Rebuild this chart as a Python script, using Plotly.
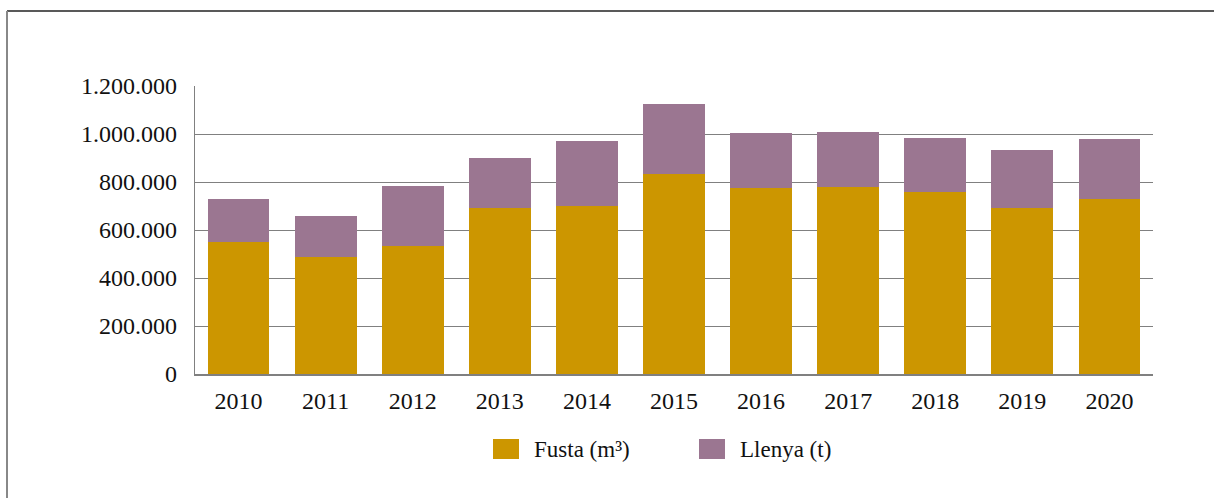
import plotly.graph_objects as go

# %%
years = ['2010', '2011', '2012', '2013', '2014', '2015', '2016', '2017', '2018', '2019', '2020']
fusta = [551000, 489000, 535000, 693000, 701000, 835000, 776000, 781000, 760000, 693000, 731000]
llenya = [179000, 171000, 250000, 208000, 271000, 291000, 229000, 229000, 225000, 242000, 249000]

col_fusta = '#cc9600'
col_llenya = '#9b7691'
serif = 'Liberation Serif'

# %%
fig = go.Figure()
fig.add_trace(go.Bar(x=years, y=fusta, name='Fusta (m³)', marker_color=col_fusta, marker_line_width=0))
fig.add_trace(go.Bar(x=years, y=llenya, name='Llenya (t)', marker_color=col_llenya, marker_line_width=0))

# plot area in pixels: x 195..1153, y 86..374
L, R, T, B = 195, 61, 86, 124
W, H = 1214 - L - R, 498 - T - B
px = lambda x: (x - L) / W
py = lambda y: (498 - B - y) / H

# legend drawn by hand so the swatches get the big size of the original
legend_items = [('Fusta (m³)', col_fusta, 493), ('Llenya (t)', col_llenya, 699)]
shapes = [
    dict(type='line', xref='paper', yref='paper', x0=px(7), x1=px(1214), y0=py(11), y1=py(11),
         line=dict(color='#222', width=1.5)),
    dict(type='line', xref='paper', yref='paper', x0=px(7), x1=px(7), y0=py(11), y1=py(498),
         line=dict(color='#888', width=2)),
]
annotations = []
for name, c, x0 in legend_items:
    shapes.append(dict(type='rect', xref='paper', yref='paper', x0=px(x0), x1=px(x0 + 26),
                       y0=py(459), y1=py(439), fillcolor=c, line_width=0))
    annotations.append(dict(text=name, xref='paper', yref='paper', x=px(x0 + 39), y=py(449),
                            xanchor='left', yanchor='middle', showarrow=False,
                            font=dict(size=23, color='#111')))

fig.update_layout(
    barmode='stack',
    bargap=0.29,
    width=1214, height=498,
    margin=dict(l=L, r=R, t=T, b=B),
    paper_bgcolor='white', plot_bgcolor='white',
    separators=',.',
    font=dict(family=serif, size=24, color='#111'),
    showlegend=False,
    shapes=shapes,
    annotations=annotations,
)
fig.update_yaxes(range=[0, 1200000], dtick=200000, tickformat=',.0f',
                 showgrid=True, gridcolor='#808080', gridwidth=1.2,
                 showline=True, linecolor='#808080', linewidth=1.2,
                 zeroline=False, ticks='', ticklabelstandoff=12)
fig.update_xaxes(showline=True, linecolor='#808080', linewidth=1.5, ticks='',
                 ticklabelstandoff=4)

fig.write_html('out.html', config={'displayModeBar': False},
               post_script="document.body.style.margin='0';")
